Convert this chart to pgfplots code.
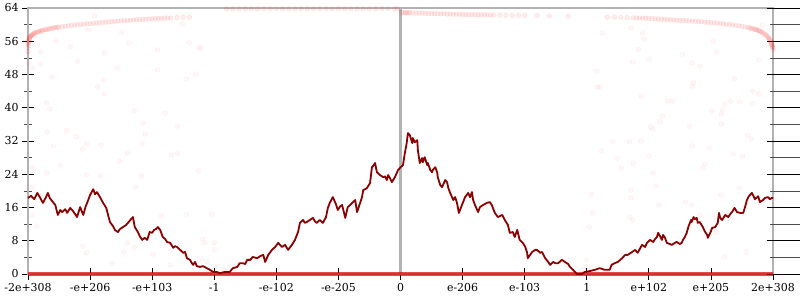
\documentclass[border=0pt]{standalone}
\usepackage{pgfplots}
\pgfplotsset{compat=1.18}
\usepackage{fontspec}
\setmainfont{DejaVu Serif}
\definecolor{linered}{RGB}{139,0,0}
\definecolor{axgray}{RGB}{178,178,178}
\begin{document}
\begin{tikzpicture}
\useasboundingbox (-28bp,-26bp) rectangle (772bp,274bp);
\begin{axis}[
  scale only axis, width=745bp, height=266bp,
  xmin=-6, xmax=6, ymin=0, ymax=64,
  xtick={-6,-5,-4,-3,-2,-1,0,1,2,3,4,5,6},
  xticklabels={-2e+308,-e+206,-e+103,-1,-e-102,-e-205,0,e-206,e-103,1,e+102,e+205,2e+308},
  ytick={0,8,16,24,32,40,48,56,64},
  minor y tick num=1,
  xtick pos=bottom, ytick pos=both, tick align=center,
  major tick length=12bp, minor tick length=7bp,
  axis line style={axgray, line width=2.2bp},
  major tick style={black, line width=0.8bp},
  minor tick style={black!70, line width=0.6bp},
  tick label style={font=\fontsize{11}{13}\selectfont, text=black},
  /pgf/number format/assume math mode=true,
  clip=false,
]
% centre axis
\draw[axgray, line width=2.2bp] (axis cs:0,0) -- (axis cs:0,64);
\pgfplotsinvokeforeach{0,8,16,24,32,40,48,56,64}{\draw[black, line width=0.8bp] (axis cs:0,#1) ++(-6bp,0) -- ++(12bp,0);}
\pgfplotsinvokeforeach{4,12,20,28,36,44,52,60}{\draw[black!70, line width=0.6bp] (axis cs:0,#1) ++(-3.5bp,0) -- ++(7bp,0);}

% faint scatter: curves near the top
\addplot[only marks, mark=*, mark size=2.4bp, color=red, mark options={fill opacity=0.07, draw opacity=0.09}] coordinates {
(-6.00,55.5) (-5.995,55.8) (-5.99,56.0) (-5.985,56.3) (-5.98,56.6) (-5.975,56.8) (-5.97,57.0) (-5.96,57.15) (-5.95,57.3) (-5.94,57.45) (-5.93,57.6) (-5.915,57.75) (-5.90,57.9) (-5.885,58.0) (-5.87,58.1)
(-5.85,58.2) (-5.83,58.3) (-5.81,58.4) (-5.79,58.5) (-5.77,58.6) (-5.75,58.7) (-5.72,58.75) (-5.70,58.8) (-5.675,58.9) (-5.65,59.0) (-5.625,59.1) (-5.60,59.2) (-5.575,59.25) (-5.55,59.3) (-5.525,59.35) (-5.50,59.4)
(-5.45,59.5) (-5.40,59.6) (-5.35,59.7) (-5.30,59.8) (-5.25,59.9) (-5.20,60.0) (-5.15,60.05) (-5.10,60.1)
(-5.05,60.2) (-5.00,60.25) (-4.95,60.3) (-4.90,60.4) (-4.85,60.45) (-4.80,60.5) (-4.75,60.6) (-4.70,60.65)
(-4.65,60.7) (-4.60,60.8) (-4.55,60.85) (-4.50,60.9) (-4.45,60.95) (-4.40,61.0) (-4.35,61.05) (-4.30,61.1)
(-4.25,61.15) (-4.20,61.2) (-4.15,61.25) (-4.10,61.3) (-4.05,61.35) (-4.00,61.4) (-3.95,61.45) (-3.90,61.5)
(-3.85,61.5) (-3.80,61.55) (-3.75,61.6) (-3.70,61.6) (-3.60,61.7) (-3.50,61.75)
(-3.40,61.8) (-6.00,54.5) (-6.00,53.5) (-5.99,55.0)
(-2.8,63.8) (-2.7,63.8) (-2.6,63.8) (-2.5,63.8) (-2.4,63.8) (-2.3,63.8) (-2.2,63.8) (-2.1,63.8) (-2.0,63.8)
(-1.9,63.8) (-1.8,63.8) (-1.7,63.8) (-1.6,63.8) (-1.5,63.8) (-1.4,63.8) (-1.3,63.8) (-1.2,63.8) (-1.1,63.8)
(-1.0,63.8) (-0.9,63.8) (-0.8,63.8) (-0.7,63.8) (-0.6,63.8) (-0.5,63.8) (-0.4,63.8) (-0.3,63.8) (-0.2,63.8)
(-0.1,63.8) (-0.05,63.8)
(0.02,62.9) (0.05,62.9) (0.08,62.9) (0.10,62.85) (0.13,62.85) (0.15,62.85) (0.20,62.8) (0.25,62.8) (0.30,62.75) (0.35,62.75) (0.40,62.7)
(0.45,62.7) (0.50,62.65) (0.55,62.65) (0.60,62.6) (0.65,62.6) (0.70,62.6) (0.75,62.55) (0.80,62.55) (0.85,62.5)
(0.90,62.5) (0.95,62.5) (1.00,62.45) (1.05,62.45) (1.10,62.4) (1.15,62.4) (1.20,62.4) (1.25,62.35) (1.30,62.35)
(1.35,62.35) (1.40,62.3) (1.45,62.3) (1.5,62.3) (1.6,62.25) (1.7,62.25) (1.8,62.2) (1.9,62.2) (2.0,62.2)
(2.2,62.15) (2.4,62.1) (2.7,62.05)
(3.33,61.8) (3.45,61.8) (3.55,61.75) (3.65,61.7) (3.75,61.65)
(3.80,61.6) (3.85,61.6) (3.90,61.55) (3.95,61.5) (4.00,61.5) (4.05,61.45) (4.10,61.4) (4.15,61.35) (4.20,61.3)
(4.25,61.25) (4.30,61.2) (4.35,61.15) (4.40,61.1) (4.45,61.05) (4.50,61.0) (4.55,61.0) (4.60,60.95) (4.65,60.9)
(4.70,60.85) (4.75,60.8) (4.80,60.75) (4.85,60.7) (4.90,60.6) (4.95,60.55) (5.00,60.5) (5.05,60.45) (5.10,60.4)
(5.15,60.3) (5.20,60.2) (5.25,60.1) (5.30,60.0) (5.35,59.95) (5.40,59.85) (5.45,59.7) (5.50,59.6) (5.55,59.45)
(5.60,59.3) (5.625,59.2) (5.65,59.1) (5.675,59.0) (5.70,58.9) (5.72,58.8) (5.74,58.7) (5.76,58.6) (5.78,58.5) (5.80,58.35) (5.82,58.2) (5.84,58.0) (5.86,57.8) (5.88,57.55) (5.90,57.3) (5.915,57.05) (5.93,56.8)
(5.94,56.55) (5.95,56.3) (5.96,56.05) (5.97,55.8) (5.975,55.55) (5.98,55.3) (5.985,55.05) (5.99,54.8) (5.995,54.6) (6.00,54.4) (6.00,53.8)
};
% faint scattered points
\addplot[only marks, mark=*, mark size=2.4bp, color=red, mark options={fill opacity=0.03, draw opacity=0.06}] coordinates {
(-5.70,41.1) (-5.65,39.7) (-4.29,39.2) (-3.79,38.7) (-4.14,36.3) (-3.59,35.6) (-5.69,34.2) (-5.38,34.6)
(-4.11,33.7) (-5.22,33.0) (-5.59,30.8) (-5.06,31.3) (-4.82,31.0) (-5.12,30.1) (-4.16,31.3) (-4.40,29.1)
(-3.69,28.6) (-3.59,29.1) (-4.53,27.2) (-5.48,26.2) (-5.93,25.7) (-5.70,24.3) (-5.06,23.8) (-4.83,23.6)
(-4.17,23.6) (-3.25,24.8) (-5.93,20.9) (-4.27,20.9)
(4.30,41.6) (4.38,41.6) (5.22,40.9) (5.32,41.6) (5.46,41.4) (5.67,41.1) (5.01,39.2) (5.19,39.5) (5.17,38.5)
(4.22,38.0) (4.19,36.6) (4.03,35.4) (4.06,34.9) (4.66,35.6) (5.17,36.1) (5.59,33.4) (5.65,32.5) (3.42,31.8)
(3.69,31.8) (3.88,32.0) (3.24,29.6) (4.70,30.8) (4.98,30.3) (5.36,28.9) (5.51,28.2) (3.50,27.9) (3.75,26.7)
(4.00,28.4) (4.90,26.5) (4.87,25.5) (3.56,25.5) (4.06,24.3) (4.12,21.2) (3.71,20.2) (5.46,20.7) (3.71,18.3)
(5.16,19.0)
(3.25,58.0) (3.71,59.2) (3.90,58.0) (3.93,56.5) (3.83,54.1) (4.01,51.7) (3.74,51.0) (4.54,52.9) (4.70,50.8)
(4.83,50.0) (5.04,56.1) (5.09,53.4) (5.83,59.9) (5.77,51.5) (5.38,46.9) (4.72,46.0) (4.70,45.2) (3.88,42.8)
(5.67,44.0) (5.77,43.3) (3.21,45.0)
(-4.93,62.1) (-5.54,56.1) (-5.32,54.6) (-5.80,53.4) (-5.20,51.2) (-5.80,50.5) (-5.93,49.6) (-5.99,50.8)
(-4.77,53.2) (-4.49,58.2) (-5.03,58.7) (-4.37,55.6) (-4.56,49.6) (-3.91,53.9) (-3.91,49.1) (-3.40,55.6)
(-3.51,60.2) (-5.62,47.4) (-4.88,45.0) (-4.78,46.7) (-4.77,43.3) (-3.45,46.9) (-3.30,48.1) (-3.25,54.4)
(3.16,48.8) (3.17,45.0) (-3.21,54.4)
(-5.93,14.2) (-5.86,11.5) (-5.12,6.7) (-5.06,5.1) (-4.64,2.6) (-4.46,5.3) (-4.40,7.5) (-4.29,6.3) (-3.98,4.8)
(-3.85,14.0) (-3.45,14.4) (-3.71,2.2)
(-3.04,14.4) (-3.19,8.4) (-3.16,7.5) (-3.00,7.5) (-3.00,5.8) (-3.19,3.4) (-3.11,2.9) (-2.96,1.9) (-2.84,1.0)
(3.09,14.7) (3.04,11.3) (3.00,3.4) (3.00,1.7) (2.92,1.0)
(4.17,16.6) (3.74,13.0) (3.69,13.7) (4.82,14.2) (5.22,4.1) (5.57,5.3) (4.59,17.3) (4.69,16.6) (5.09,9.9) (3.08,19.2)
};

% dense points along zero
\addplot[color=red!85!black, opacity=0.7, line width=3.4bp] coordinates {(-6,0) (6,0)};

% main line
\addplot[color=linered, line width=1.8bp, line join=round] coordinates {
(-6.00,18.3) (-5.95,18.8) (-5.90,18.0) (-5.85,19.5) (-5.81,18.5) (-5.76,17.1) (-5.71,18.5) (-5.68,19.5)
(-5.65,18.3) (-5.61,17.5) (-5.56,16.6) (-5.52,14.2) (-5.48,15.4) (-5.45,14.9) (-5.40,15.6) (-5.37,14.7)
(-5.32,15.9) (-5.29,15.4) (-5.24,14.4) (-5.21,13.7) (-5.16,16.1) (-5.11,14.2) (-5.07,16.3) (-5.03,17.8)
(-5.00,19.0) (-4.95,20.4) (-4.92,19.2) (-4.89,19.7) (-4.84,18.5) (-4.79,17.1) (-4.74,15.9) (-4.68,12.5)
(-4.63,11.5) (-4.60,10.6) (-4.55,10.1) (-4.52,10.8) (-4.47,11.3) (-4.42,11.8) (-4.39,12.3) (-4.34,13.2)
(-4.31,13.7) (-4.28,11.3) (-4.23,10.1) (-4.20,9.1) (-4.16,8.2) (-4.12,8.7) (-4.08,8.2) (-4.04,10.1)
(-4.00,9.9) (-3.97,10.6) (-3.94,10.8) (-3.91,11.3) (-3.87,10.6) (-3.83,8.9) (-3.79,8.4) (-3.76,7.7)
(-3.71,7.5) (-3.66,6.3) (-3.63,6.7) (-3.60,6.5) (-3.55,5.8) (-3.50,5.1) (-3.47,5.3) (-3.44,3.8)
(-3.39,3.4) (-3.36,2.6) (-3.34,2.2) (-3.31,2.9) (-3.28,1.9) (-3.23,1.7) (-3.18,1.9) (-3.12,1.4)
(-3.07,1.0) (-3.02,0.5) (-2.96,0.5) (-2.91,0.2) (-2.83,0.5) (-2.75,0.5) (-2.70,1.4) (-2.63,1.7)
(-2.59,2.6) (-2.54,2.6) (-2.50,2.4) (-2.47,3.4) (-2.42,3.4) (-2.38,4.1) (-2.31,3.8) (-2.26,4.3)
(-2.21,4.6) (-2.18,2.9) (-2.13,4.6) (-2.07,5.8) (-2.02,6.5) (-1.97,7.5) (-1.94,7.0) (-1.91,6.5)
(-1.86,7.0) (-1.81,5.8) (-1.75,7.0) (-1.70,8.2) (-1.65,10.1) (-1.62,12.3) (-1.57,13.0) (-1.54,12.3)
(-1.51,12.5) (-1.46,13.0) (-1.41,13.5) (-1.38,12.7) (-1.35,12.3) (-1.30,13.0) (-1.25,12.3) (-1.20,13.7)
(-1.17,15.9) (-1.14,17.1) (-1.09,18.5) (-1.04,16.8) (-1.01,15.4) (-0.97,16.3) (-0.94,16.6) (-0.89,13.5)
(-0.85,16.1) (-0.81,16.6) (-0.78,17.1) (-0.73,17.8) (-0.70,14.9) (-0.65,17.1) (-0.62,18.5) (-0.60,20.2)
(-0.57,20.4) (-0.54,20.7) (-0.49,21.9) (-0.46,25.7) (-0.43,26.2) (-0.41,26.7) (-0.38,24.5) (-0.33,23.8)
(-0.28,23.3) (-0.25,23.5) (-0.22,22.6) (-0.20,23.8) (-0.17,23.1) (-0.14,22.1) (-0.09,23.3) (-0.04,25.0)
(-0.01,25.5) (0.04,26.2) (0.07,29.1) (0.10,31.5) (0.12,33.9) (0.15,33.4) (0.19,31.5) (0.20,32.7)
(0.23,31.7) (0.27,32.2) (0.28,29.8) (0.31,26.7) (0.35,27.9) (0.36,26.9) (0.39,28.1) (0.43,26.2)
(0.44,26.7) (0.48,25.0) (0.51,24.5) (0.52,25.0) (0.56,25.7) (0.59,24.5) (0.60,23.3) (0.64,21.4)
(0.67,20.9) (0.72,22.6) (0.75,22.1) (0.77,20.7) (0.80,19.5) (0.85,17.8) (0.88,18.5) (0.91,17.1)
(0.94,14.7) (0.99,16.6) (1.04,18.5) (1.09,19.5) (1.12,18.5) (1.15,19.7) (1.17,17.8) (1.20,16.6)
(1.25,14.9) (1.28,16.1) (1.33,16.6) (1.39,17.1) (1.44,17.3) (1.47,16.6) (1.52,14.7) (1.57,13.7)
(1.64,14.2) (1.68,13.0) (1.73,11.8) (1.76,9.9) (1.81,10.1) (1.84,8.9) (1.88,10.6) (1.92,8.2)
(1.97,7.5) (2.01,6.5) (2.04,5.1) (2.05,3.8) (2.12,5.3) (2.17,5.8) (2.20,5.8) (2.25,5.1)
(2.28,5.3) (2.33,3.8) (2.38,2.9) (2.41,2.2) (2.46,2.9) (2.49,2.6) (2.54,2.6) (2.60,3.4)
(2.65,2.9) (2.70,2.4) (2.73,1.7) (2.78,1.0) (2.81,0.5) (2.84,0.0) (2.89,0.0) (2.92,0.0)
(2.97,0.5) (3.05,0.7) (3.13,1.0) (3.21,1.4) (3.29,1.0) (3.37,1.0) (3.40,2.2) (3.45,2.6)
(3.50,2.9) (3.57,3.8) (3.62,4.6) (3.66,4.6) (3.73,5.3) (3.78,5.8) (3.82,5.1) (3.89,7.0)
(3.94,6.5) (3.97,7.5) (4.02,8.2) (4.07,7.7) (4.10,8.4) (4.13,8.9) (4.15,9.9) (4.18,9.1)
(4.21,8.2) (4.23,9.4) (4.26,8.7) (4.29,7.5) (4.34,7.2) (4.37,7.0) (4.42,7.5) (4.45,7.7)
(4.50,7.2) (4.53,7.5) (4.55,8.2) (4.58,8.9) (4.61,9.9) (4.64,11.5) (4.68,13.0) (4.69,12.5)
(4.72,13.7) (4.74,13.2) (4.77,13.5) (4.79,12.3) (4.82,12.5) (4.87,11.3) (4.90,10.3) (4.94,9.4)
(4.95,8.7) (4.99,9.9) (5.02,11.1) (5.07,11.3) (5.11,12.3) (5.13,14.7) (5.15,13.5) (5.18,13.0)
(5.23,14.2) (5.28,13.7) (5.31,14.4) (5.34,14.9) (5.38,15.9) (5.42,14.9) (5.47,14.7) (5.52,14.7)
(5.55,16.1) (5.58,17.8) (5.61,18.7) (5.66,19.5) (5.71,18.0) (5.76,18.7) (5.79,17.3) (5.84,17.8)
(5.87,18.3) (5.92,18.5) (5.95,18.0) (5.98,18.3) (6.00,18.3)
};
\end{axis}
\end{tikzpicture}
\end{document}
